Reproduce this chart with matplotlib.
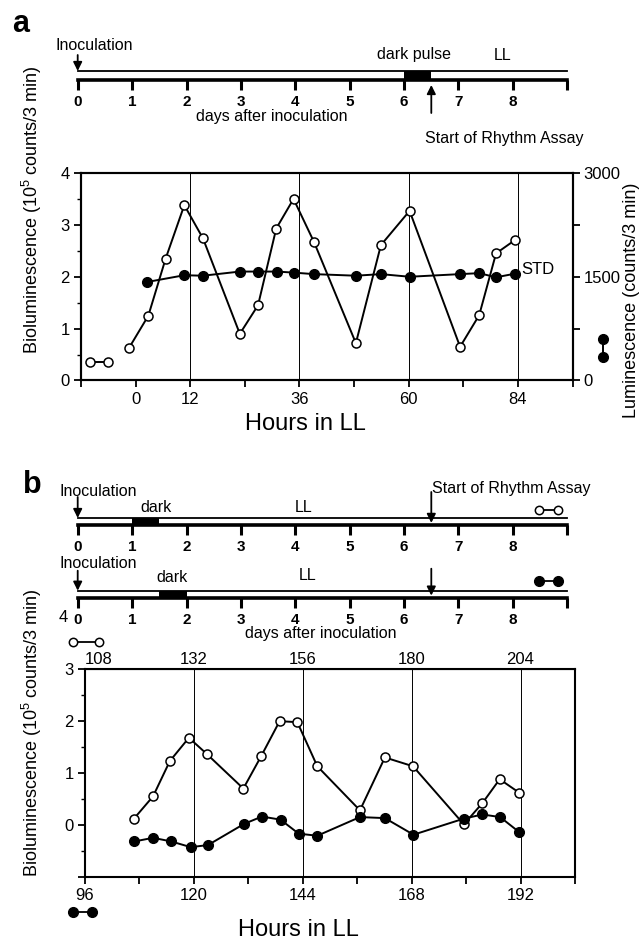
import numpy as np
import matplotlib.pyplot as plt
from matplotlib.ticker import MultipleLocator

plt.rcParams['font.family'] = ['Liberation Sans', 'DejaVu Sans']
plt.rcParams['mathtext.fontset'] = 'custom'
plt.rcParams['mathtext.rm'] = 'Liberation Sans'

W, H = 641, 946

# ---- panel a data (hours in LL) ----
a_open_hours = [-1.5, 2.8, 6.6, 10.7, 14.8, 22.9, 26.9, 30.9, 34.7, 39.2,
                48.4, 53.9, 60.2, 71.3, 75.5, 79.2, 83.4]
a_open_biolum = [0.62, 1.25, 2.35, 3.38, 2.74, 0.90, 1.45, 2.93, 3.50, 2.67,
                 0.72, 2.61, 3.27, 0.65, 1.26, 2.45, 2.71]
a_std_hours = [2.6, 10.7, 14.8, 22.9, 26.9, 31.0, 34.7, 39.2, 48.4, 53.9,
               60.2, 71.3, 75.5, 79.2, 83.4]
a_std_lum = [1425, 1522, 1515, 1575, 1575, 1575, 1560, 1538, 1515, 1538,
             1500, 1538, 1552, 1492, 1545]
a_grid_hours = [12, 36, 60, 84]
a_xticklabels = {0: '0', 12: '12', 36: '36', 60: '60', 84: '84'}

# ---- panel b data ----
# open circles are read on the top axis (hours in LL), filled on the bottom axis
b_open_hours = [118.7, 123.0, 126.7, 130.9, 134.8, 142.9, 146.8, 150.9, 154.8, 159.2,
                168.6, 174.1, 180.3, 191.5, 195.6, 199.4, 203.7]
b_open_biolum = [0.11, 0.55, 1.23, 1.68, 1.37, 0.70, 1.32, 2.00, 1.98, 1.13,
                 0.28, 1.30, 1.13, 0.01, 0.42, 0.88, 0.62]
b_fill_hours = [106.9, 111.0, 115.0, 119.3, 123.1, 131.1, 135.0, 139.1, 143.1, 147.2,
                156.6, 162.1, 168.4, 179.5, 183.6, 187.5, 191.7]
b_fill_biolum = [-0.32, -0.25, -0.32, -0.43, -0.39, 0.02, 0.16, 0.10, -0.17, -0.21,
                 0.15, 0.13, -0.19, 0.12, 0.20, 0.15, -0.14]
b_grid_hours = [120, 144, 168, 192]
b_bottom_labels = [96, 120, 144, 168, 192]
b_top_labels = [108, 132, 156, 180, 204]
top_shift = 12

# ---- timelines (days after inoculation) ----
days = list(range(10))
a_dark = (6.0, 6.5)
b1_dark = (1.0, 1.5)
b2_dark = (1.5, 2.0)
assay_day = 6.5

fig = plt.figure(figsize=(W / 100, H / 100), dpi=100)


def px_rect(l, t, r, b):
    return [l / W, 1 - b / H, (r - l) / W, (b - t) / H]


def ftext(x, y, s, **kw):
    kw.setdefault('ha', 'center')
    kw.setdefault('va', 'center')
    return fig.text(x / W, 1 - y / H, s, **kw)


def timeline(l, t, r, b, dark):
    ax = fig.add_axes(px_rect(l, t, r, b))
    ax.set_xlim(0, 9)
    ax.set_ylim(0, 1)
    ax.axvspan(dark[0], dark[1], color='black', lw=0)
    for s in ['left', 'right']:
        ax.spines[s].set_visible(False)
    ax.spines['top'].set_linewidth(1.3)
    ax.spines['bottom'].set_linewidth(2.6)
    ax.set_yticks([])
    ax.set_xticks(days)
    ax.set_xticklabels([str(d) if d < 9 else '' for d in days], fontweight='bold')
    ax.tick_params(axis='x', direction='out', length=7, width=2.2, pad=4, labelsize=11)
    ax.patch.set_alpha(0)
    return ax


def down_arrow(ax, day, tip_frac, tail_frac):
    ax.annotate('', xy=(day, tip_frac), xycoords=('data', 'axes fraction'),
                xytext=(day, tail_frac), textcoords=('data', 'axes fraction'),
                arrowprops=dict(arrowstyle='-|>', color='k', lw=1.3, mutation_scale=13,
                                shrinkA=0, shrinkB=0), annotation_clip=False)


# ================= panel a =================
ftext(21, 24, 'a', fontsize=22, fontweight='bold')

# top timeline : top line y=71, bottom line y=80 (pixels)
tla = timeline(77.7, 71, 567.3, 80, a_dark)
down_arrow(tla, 0, 1.0, 1 + 16 / 9)
down_arrow(tla, assay_day, -5 / 9, -33 / 9)
ftext(94, 45, 'Inoculation', fontsize=11.5)
ftext(414, 55, 'dark pulse', fontsize=11.5)
ftext(503, 55, 'LL', fontsize=11.5)
ftext(272, 117, 'days after inoculation', fontsize=11.5)
ftext(504, 138, 'Start of Rhythm Assay', fontsize=11.5)

ax = fig.add_axes(px_rect(81, 173, 572.5, 380.5))
ax.set_xlim(-12, 96)
ax.set_ylim(0, 4)
for x in a_grid_hours:
    ax.axvline(x, color='k', lw=0.7, zorder=1)
ax.plot(a_open_hours, a_open_biolum, '-o', color='k', mfc='white', mec='k',
        ms=6.5, lw=1.4, mew=1.1, zorder=3)
# o-o key for the bioluminescence axis
ax.plot([-10, -6], [0.35, 0.35], '-o', color='k', mfc='white', mec='k',
        ms=6.5, lw=1.4, mew=1.1, zorder=3)

ax2 = ax.twinx()
ax2.set_ylim(0, 3000)
ax2.plot(a_std_hours, a_std_lum, '-o', color='k', ms=7, lw=1.4, zorder=4)
# vertical key for the luminescence axis
ax2.plot([102.7, 102.7], [600, 340], '-o', color='k', ms=7, lw=1.4, clip_on=False)
ax2.text(84.8, 1600, 'STD', fontsize=12, va='center', ha='left')

ticks = list(range(-12, 97, 12))
ax.set_xticks(ticks)
ax.set_xticklabels([a_xticklabels.get(t, '') for t in ticks])
ax.set_yticks([0, 1, 2, 3, 4])
ax.yaxis.set_minor_locator(MultipleLocator(0.5))
ax2.set_yticks([0, 750, 1500, 2250, 3000])
ax2.set_yticklabels(['0', '', '1500', '', '3000'])
for a_ in (ax, ax2):
    for s in a_.spines.values():
        s.set_linewidth(1.5)
    a_.tick_params(direction='out', length=5, width=1.3, labelsize=12, pad=3)
    a_.tick_params(which='minor', direction='out', length=3, width=1.0)

ftext(32, 210, 'Bioluminescence (10$^5$ counts/3 min)', fontsize=13, rotation=90)
ftext(631, 300, 'Luminescence (counts/3 min)', fontsize=13, rotation=90)
ftext(305, 424, 'Hours in LL', fontsize=17)

# ================= panel b =================
ftext(32, 485, 'b', fontsize=22, fontweight='bold')

tb1 = timeline(77.7, 518, 567.3, 525, b1_dark)
down_arrow(tb1, 0, 1.0, 1 + 21 / 7)
down_arrow(tb1, assay_day, 0.3, 1 + 26 / 7)
ftext(98, 491, 'Inoculation', fontsize=11.5)
ftext(156, 507, 'dark', fontsize=11.5)
ftext(304, 507, 'LL', fontsize=11.5)
ftext(511, 488, 'Start of Rhythm Assay', fontsize=11.5)
tb1.plot([8.48, 8.83], [2.1, 2.1], '-o', color='k', mfc='white', mec='k',
         ms=6, lw=1.3, mew=1.1, clip_on=False)

tb2 = timeline(77.7, 590.7, 567.3, 597.7, b2_dark)
down_arrow(tb2, 0, 1.0, 1 + 20 / 7)
down_arrow(tb2, assay_day, 0.3, 1 + 22 / 7)
ftext(98, 563, 'Inoculation', fontsize=11.5)
ftext(172, 577, 'dark', fontsize=11.5)
ftext(308, 576, 'LL', fontsize=11.5)
ftext(321, 633, 'days after inoculation', fontsize=11.5)
tb2.plot([8.48, 8.83], [2.4, 2.4], '-o', color='k', ms=7, lw=1.3, clip_on=False)
ftext(63, 618, '4', fontsize=12)

bx = fig.add_axes(px_rect(85, 669.3, 575, 876.7))
bx.set_xlim(96, 204)
bx.set_ylim(-1, 3)
for x in b_grid_hours:
    bx.axvline(x, color='k', lw=0.7, zorder=1)
bx.plot(np.array(b_open_hours) - top_shift, b_open_biolum, '-o', color='k', mfc='white',
        mec='k', ms=6.5, lw=1.4, mew=1.1, zorder=3)
bx.plot(b_fill_hours, b_fill_biolum, '-o', color='k', ms=7, lw=1.4, zorder=4)
# keys
bx.plot([93.4, 99.0], [3.52, 3.52], '-o', color='k', mfc='white', mec='k',
        ms=6, lw=1.3, mew=1.1, clip_on=False)
bx.plot([93.4, 97.5], [-1.68, -1.68], '-o', color='k', ms=7, lw=1.3, clip_on=False)

bticks = list(range(96, 205, 12))
bx.set_xticks(bticks)
bx.set_xticklabels([str(t) if t in b_bottom_labels else '' for t in bticks])
bx.set_yticks([-1, 0, 1, 2, 3])
bx.set_yticklabels(['', '0', '1', '2', '3'])
bx.yaxis.set_minor_locator(MultipleLocator(0.5))
for s in bx.spines.values():
    s.set_linewidth(1.5)
bx.tick_params(direction='out', length=5, width=1.3, labelsize=12, pad=3)
bx.tick_params(which='minor', direction='out', length=3, width=1.0)

top = bx.secondary_xaxis('top', functions=(lambda x: x + top_shift, lambda x: x - top_shift))
top.set_xticks(b_top_labels)
top.tick_params(length=0, labelsize=12, pad=2)
top.get_xticklabels()[0].set_ha('left')

ftext(32, 733, 'Bioluminescence (10$^5$ counts/3 min)', fontsize=13, rotation=90)
ftext(298, 930, 'Hours in LL', fontsize=17)

fig.savefig('out.png', dpi=100)
